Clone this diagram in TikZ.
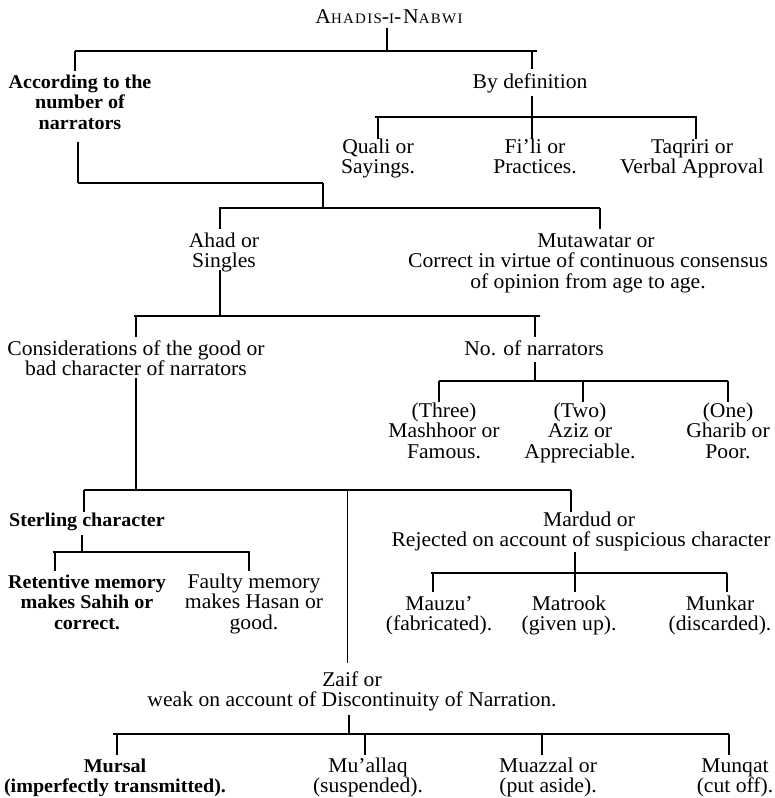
\documentclass[tikz,border=0pt]{standalone}
\usepackage{fontspec}
\setmainfont{Liberation Serif}[FakeStretch=1.03]
\newcommand\fs{\fontsize{21}{20.5}\selectfont}
\newcommand\bfs{\fontsize{19.5}{20.5}\selectfont\bfseries}
\newcommand\smc[1]{{\fontsize{14.5}{15}\selectfont #1}}
\begin{document}
\begin{tikzpicture}[x=1pt,y=-1pt,
  lbl/.style={align=center, inner sep=0pt, anchor=base, font=\fs},
  blbl/.style={align=center, inner sep=0pt, anchor=base, font=\bfs},
  ln/.style={line width=1.3pt},
  thk/.style={line width=2.2pt}]
\useasboundingbox[fill=white] (0,0) rectangle (775,798);

% ---------- texts (positioned at the baseline of the last line) ----------
\node[lbl] (title) at (389,23) {\addfontfeature{LetterSpace=9}A\smc{HADIS}-\smc{I}-N\smc{ABWI}};
\node[blbl] (acc) at (80,129) {According to the\\number of\\narrators};
\node[lbl] (bydef) at (530,88) {By definition};
\node[lbl] (quali) at (378,173.5) {Quali or\\Sayings.};
\node[lbl] (fili) at (535,173.5) {Fi'li or\\Practices.};
\node[lbl] (taq) at (692,173.5) {Taqriri or\\Verbal Approval};
\node[lbl] (ahad) at (224,267.5) {Ahad or\\Singles};
\node[lbl] (muta) at (588,288) {\hspace*{16pt}Mutawatar or\\Correct in virtue of continuous consensus\\of opinion from age to age.};
\node[lbl] (cons) at (136,375.5) {Considerations of the good or\\bad character of narrators};
\node[lbl] (nonar) at (534,355) {No. of narrators};
\node[lbl] (three) at (444,458) {(Three)\\Mashhoor or\\Famous.};
\node[lbl] (two) at (580,458) {(Two)\\Aziz or\\Appreciable.};
\node[lbl] (one) at (728,458) {(One)\\Gharib or\\Poor.};
\node[blbl] (sterl) at (87,526) {Sterling character};
\node[lbl] (mard) at (581,546.5) {\hspace*{16pt}Mardud or\\Rejected on account of suspicious character};
\node[blbl] (ret) at (87,629) {Retentive memory\\makes Sahih or\\correct.};
\node[lbl] (faul) at (254,629) {Faulty memory\\makes Hasan or\\good.};
\node[lbl] (mauz) at (439,630.5) {Mauzu'\\(fabricated).};
\node[lbl] (matr) at (569,630.5) {Matrook\\(given up).};
\node[lbl] (munk) at (720,630.5) {Munkar\\(discarded).};
\node[lbl] (zaif) at (352,706.5) {Zaif or\\weak on account of Discontinuity of Narration.};
\node[blbl] (murs) at (115,792.5) {Mursal\\(imperfectly transmitted).};
\node[lbl] (mual) at (368,792.5) {Mu'allaq\\(suspended).};
\node[lbl] (muaz) at (548,792.5) {Muazzal or\\(put aside).};
\node[lbl] (munq) at (735,792.5) {Munqat\\(cut off).};

% ---------- connector points ----------
% root
\coordinate (r0) at (387,28); \coordinate (r1) at (387,51);
\coordinate (rL) at (75,51);  \coordinate (rR) at (537,51);
\coordinate (rd1) at (75,71); \coordinate (rd2) at (532,69);
% by definition
\coordinate (b0) at (532,96); \coordinate (b1) at (532,117);
\coordinate (bL) at (375,117); \coordinate (bR) at (697,117);
\coordinate (bd1) at (378,139); \coordinate (bd2) at (532,139); \coordinate (bd3) at (696,139);
% according
\coordinate (a0) at (78,142); \coordinate (a1) at (78,183);
\coordinate (a2) at (323,183); \coordinate (a3) at (323,208);
\coordinate (nL) at (219,208); \coordinate (nR) at (600,208);
\coordinate (nd1) at (220,229); \coordinate (nd2) at (600,229);
% ahad
\coordinate (h0) at (220,270); \coordinate (h1) at (220,316);
\coordinate (hL) at (134,316); \coordinate (hR) at (540,316);
\coordinate (hd1) at (136,337); \coordinate (hd2) at (535,337);
% no. of narrators
\coordinate (o0) at (535,362); \coordinate (o1) at (535,381);
\coordinate (oL) at (439,381); \coordinate (oR) at (728,381);
\coordinate (od1) at (439,402); \coordinate (od2) at (583,402); \coordinate (od3) at (728,402);
% considerations
\coordinate (c0) at (136,378); \coordinate (c1) at (136,490);
\coordinate (cL) at (84,490); \coordinate (cR) at (571,490);
\coordinate (cd1) at (84,512); \coordinate (cd2) at (347,663); \coordinate (cd3) at (571,512);
% sterling
\coordinate (s0) at (82,535); \coordinate (s1) at (82,552);
\coordinate (sL) at (53,552); \coordinate (sR) at (250,552);
\coordinate (sd1) at (55,571); \coordinate (sd2) at (249,571);
% mardud
\coordinate (m0) at (575,552); \coordinate (m1) at (575,573);
\coordinate (mL) at (431,573); \coordinate (mR) at (727,573);
\coordinate (md1) at (433,592); \coordinate (md2) at (575,592); \coordinate (md3) at (727,592);
% zaif
\coordinate (z0) at (349,715); \coordinate (z1) at (349,734);
\coordinate (zL) at (113,734); \coordinate (zR) at (729,734);
\coordinate (zd1) at (117,755); \coordinate (zd2) at (365,755); \coordinate (zd3) at (542,755); \coordinate (zd4) at (729,755);

% ---------- connectors ----------
\draw[ln] (r0) -- (r1);
\draw[ln] (rL) -- (rR);
\draw[ln] (rL -| rd1) -- (rd1);
\draw[ln] (rL -| rd2) -- (rd2);

\draw[ln] (b0) -- (b1);
\draw[ln] (bL) -- (bR);
\draw[ln] (bL -| bd1) -- (bd1);
\draw[ln] (bL -| bd2) -- (bd2);
\draw[ln] (bL -| bd3) -- (bd3);

\draw[thk] (a0) -- (a1);
\draw[ln] (a1) -- (a2);
\draw[ln] (a2) -- (a3);
\draw[ln] (nL) -- (nR);
\draw[ln] (nL -| nd1) -- (nd1);
\draw[ln] (nL -| nd2) -- (nd2);

\draw[ln] (h0) -- (h1);
\draw[ln] (hL) -- (hR);
\draw[ln] (hL -| hd1) -- (hd1);
\draw[ln] (hL -| hd2) -- (hd2);

\draw[ln] (o0) -- (o1);
\draw[ln] (oL) -- (oR);
\draw[ln] (oL -| od1) -- (od1);
\draw[ln] (oL -| od2) -- (od2);
\draw[ln] (oL -| od3) -- (od3);

\draw[thk] (c0) -- (c1);
\draw[ln] (cL) -- (cR);
\draw[ln] (cL -| cd1) -- (cd1);
\draw[line width=0.9pt] (cL -| cd2) -- (cd2);
\draw[ln] (cL -| cd3) -- (cd3);

\draw[ln] (s0) -- (s1);
\draw[thk] (sL) -- (sR);
\draw[ln] (sL -| sd1) -- (sd1);
\draw[ln] (sL -| sd2) -- (sd2);

\draw[ln] (m0) -- (m1);
\draw[ln] (mL) -- (mR);
\draw[ln] (mL -| md1) -- (md1);
\draw[ln] (mL -| md2) -- (md2);
\draw[ln] (mL -| md3) -- (md3);

\draw[ln] (z0) -- (z1);
\draw[thk] (zL) -- (zR);
\draw[ln] (zL -| zd1) -- (zd1);
\draw[ln] (zL -| zd2) -- (zd2);
\draw[ln] (zL -| zd3) -- (zd3);
\draw[ln] (zL -| zd4) -- (zd4);
\end{tikzpicture}
\end{document}
